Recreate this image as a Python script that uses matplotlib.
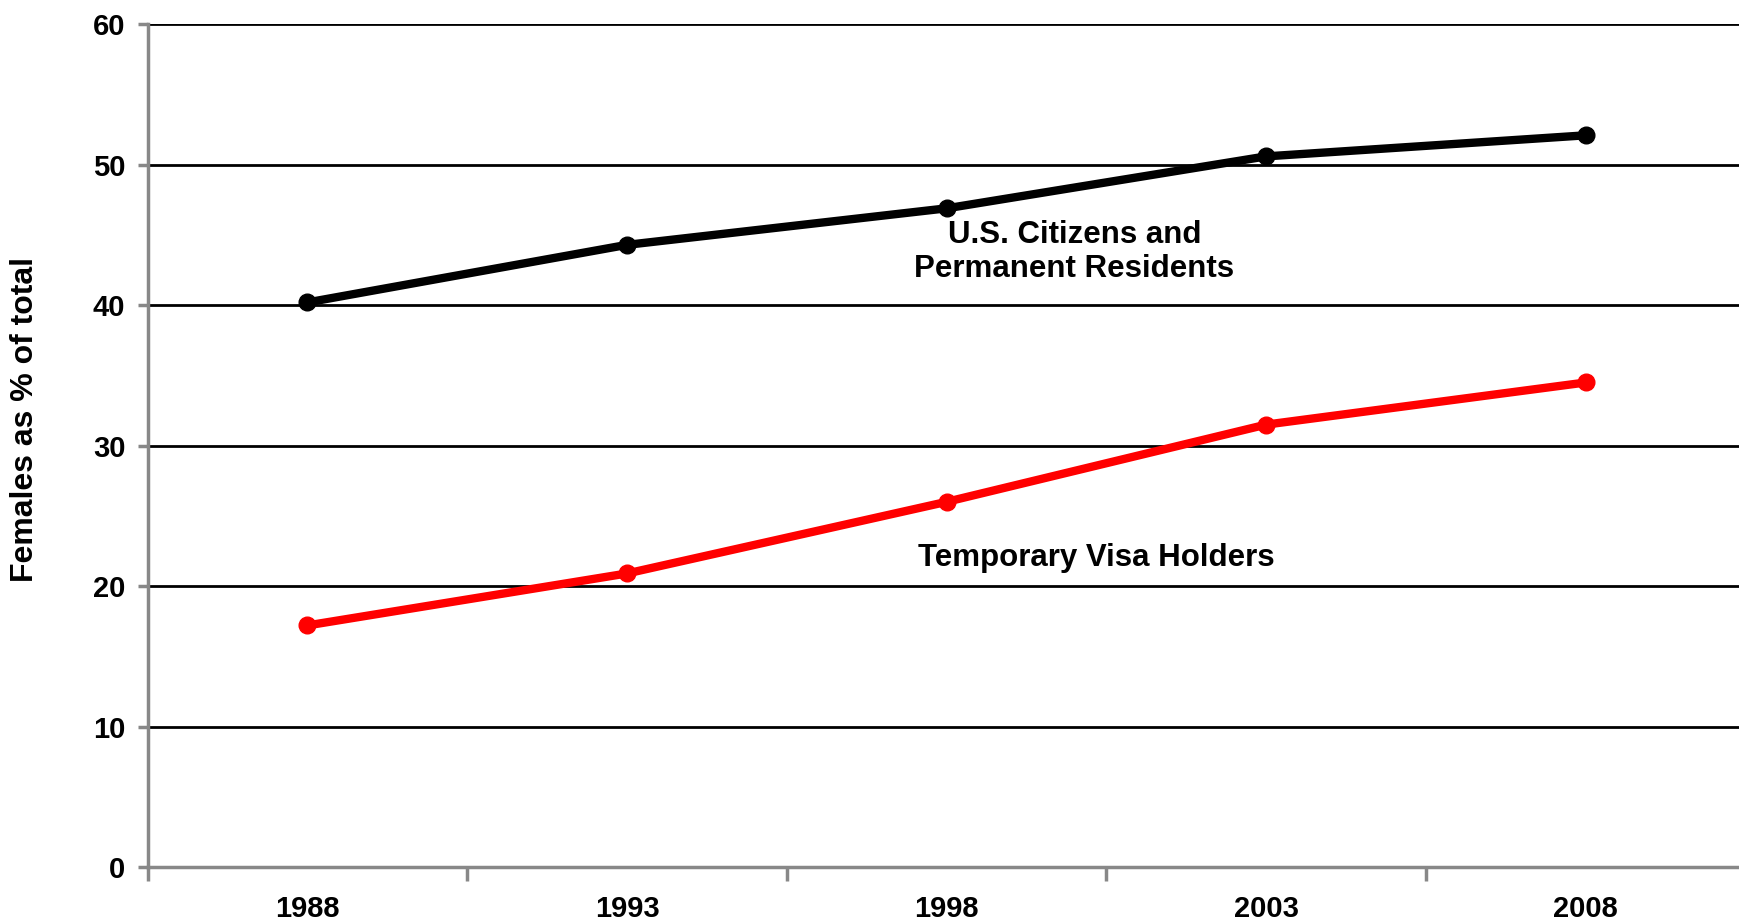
import numpy as np
import matplotlib.pyplot as plt

years = ['1988', '1993', '1998', '2003', '2008']
citizens = [40.2, 44.3, 46.9, 50.6, 52.1]
temp_visa = [17.2, 20.9, 26.0, 31.5, 34.5]

plt.rcParams['font.family'] = ['Liberation Sans', 'DejaVu Sans']
plt.rcParams['font.weight'] = 'bold'

fig = plt.figure(figsize=(17.4, 9.23), dpi=100)
ax = fig.add_axes([0.0848, 0.0607, 0.9184, 0.9129])

x = np.arange(len(years)) + 0.5
ax.plot(x, citizens, color='black', lw=6, marker='o', ms=12, zorder=3)
ax.plot(x, temp_visa, color='#ff0000', lw=6, marker='o', ms=12, zorder=3)

ax.set_xlim(0, 5)
ax.set_ylim(0, 60)
ax.set_yticks(np.arange(0, 61, 10))
ax.set_xticks(np.arange(0, 6), minor=False)
ax.set_xticklabels([])
ax.set_xticks(x, minor=True)
ax.set_xticklabels(years, minor=True)

ax.yaxis.grid(True, color='black', lw=2)
ax.set_axisbelow(True)
for s in ['top', 'right']:
    ax.spines[s].set_visible(False)
for s in ['left', 'bottom']:
    ax.spines[s].set_color('#888888')
    ax.spines[s].set_linewidth(2.5)

ax.tick_params(axis='y', which='major', length=7, width=2.5, color='#888888',
               labelsize=21, pad=9)
ax.tick_params(axis='x', which='major', length=10, width=2.5, color='#888888')
ax.tick_params(axis='x', which='minor', length=0, labelsize=21, pad=20)

ax.text(2.9, 43.8, 'U.S. Citizens and\nPermanent Residents', ha='center', va='center',
        fontsize=22.5, fontweight='bold', linespacing=1.15)
ax.text(2.97, 22.0, 'Temporary Visa Holders', ha='center', va='center',
        fontsize=22.5, fontweight='bold')

fig.text(0.0145, 0.545, 'Females as % of total', rotation=90, ha='center', va='center',
         fontsize=23, fontweight='bold')

fig.savefig('out.png', dpi=100)
